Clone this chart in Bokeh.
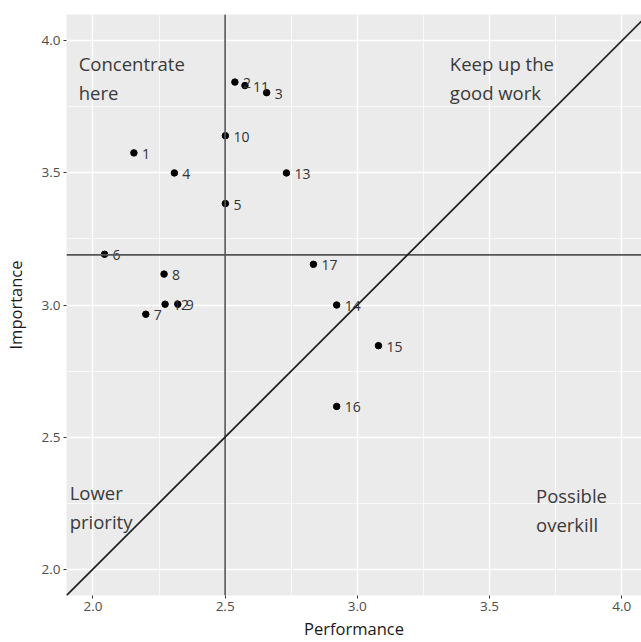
from bokeh.plotting import figure
from bokeh.models import Span, Slope, FixedTicker, Range1d, ColumnDataSource, PrintfTickFormatter
from bokeh.embed import file_html
from bokeh.resources import INLINE
from bokeh.core.properties import value

# ---- data ----
item_labels = ["1", "2", "3", "4", "5", "6", "7", "8", "9", "10",
               "11", "12", "13", "14", "15", "16", "17"]
performance = [2.155, 2.537, 2.657, 2.308, 2.501, 2.044, 2.200, 2.269, 2.321, 2.501,
               2.575, 2.273, 2.732, 2.922, 3.080, 2.922, 2.834]
importance = [3.576, 3.844, 3.804, 3.500, 3.384, 3.192, 2.965, 3.117, 3.003, 3.641,
              3.831, 3.003, 3.500, 3.000, 2.846, 2.616, 3.154]

performance_cut = 2.5
importance_cut = 3.19

tick_values = [2.0, 2.5, 3.0, 3.5, 4.0]
minor_values = [2.25, 2.75, 3.25, 3.75]

quadrant_lines = ["Concentrate", "here", "Keep up the", "good work",
                  "Lower", "priority", "Possible", "overkill"]
quadrant_x = [1.946, 1.946, 3.350, 3.350, 1.912, 1.912, 3.676, 3.676]
quadrant_y = [3.913, 3.806, 3.913, 3.806, 2.291, 2.181, 2.278, 2.169]

FONT = "Open Sans"

p = figure(width=641, height=642, output_backend="svg", toolbar_location=None,
           x_range=Range1d(1.9, 4.075), y_range=Range1d(1.9, 4.1),
           min_border_left=65, min_border_right=0, min_border_top=14, min_border_bottom=46,
           background_fill_color="#EBEBEB", border_fill_color="white")
p.outline_line_color = None

for ax in (p.xaxis[0], p.yaxis[0]):
    ax.ticker = FixedTicker(ticks=tick_values, minor_ticks=minor_values)
    ax.formatter = PrintfTickFormatter(format="%.1f")
    ax.axis_line_color = None
    ax.major_tick_out = 3
    ax.major_tick_in = 0
    ax.major_tick_line_color = "#333333"
    ax.minor_tick_line_color = None
    ax.major_label_text_font = FONT
    ax.major_label_text_font_size = "13.5px"
    ax.major_label_text_color = "#4D4D4D"
    ax.major_label_standoff = 2
    ax.axis_label_text_font = FONT
    ax.axis_label_text_font_size = "16.5px"
    ax.axis_label_text_font_style = "normal"
    ax.axis_label_text_color = "#1a1a1a"

p.xaxis.axis_label = "Performance"
p.yaxis.axis_label = "Importance"
p.xaxis.axis_label_standoff = 3
p.yaxis.axis_label_standoff = 12

for g in (p.xgrid[0], p.ygrid[0]):
    g.ticker = FixedTicker(ticks=tick_values, minor_ticks=minor_values)
    g.grid_line_color = "white"
    g.grid_line_width = 1.4
    g.minor_grid_line_color = "white"
    g.minor_grid_line_width = 0.7

p.add_layout(Span(location=performance_cut, dimension="height", line_color="#555555", line_width=1.6))
p.add_layout(Span(location=importance_cut, dimension="width", line_color="#555555", line_width=1.8))
p.add_layout(Slope(gradient=1, y_intercept=0, line_color="#1f1f1f", line_width=1.7))

src = ColumnDataSource(dict(x=performance, y=importance, label=item_labels))
p.scatter("x", "y", source=src, size=6.5, color="black")
p.text("x", "y", text="label", source=src, x_offset=8, y_offset=1,
       text_baseline="middle", text_align="left",
       text_font=value(FONT), text_font_size="14px", text_color="#333333")

qsrc = ColumnDataSource(dict(x=quadrant_x, y=quadrant_y, t=quadrant_lines))
p.text("x", "y", text="t", source=qsrc, text_baseline="alphabetic", text_align="left",
       text_font=value(FONT), text_font_size="18.5px", text_color="#3a3a3a")

open("out.html", "w").write(file_html(p, INLINE))
